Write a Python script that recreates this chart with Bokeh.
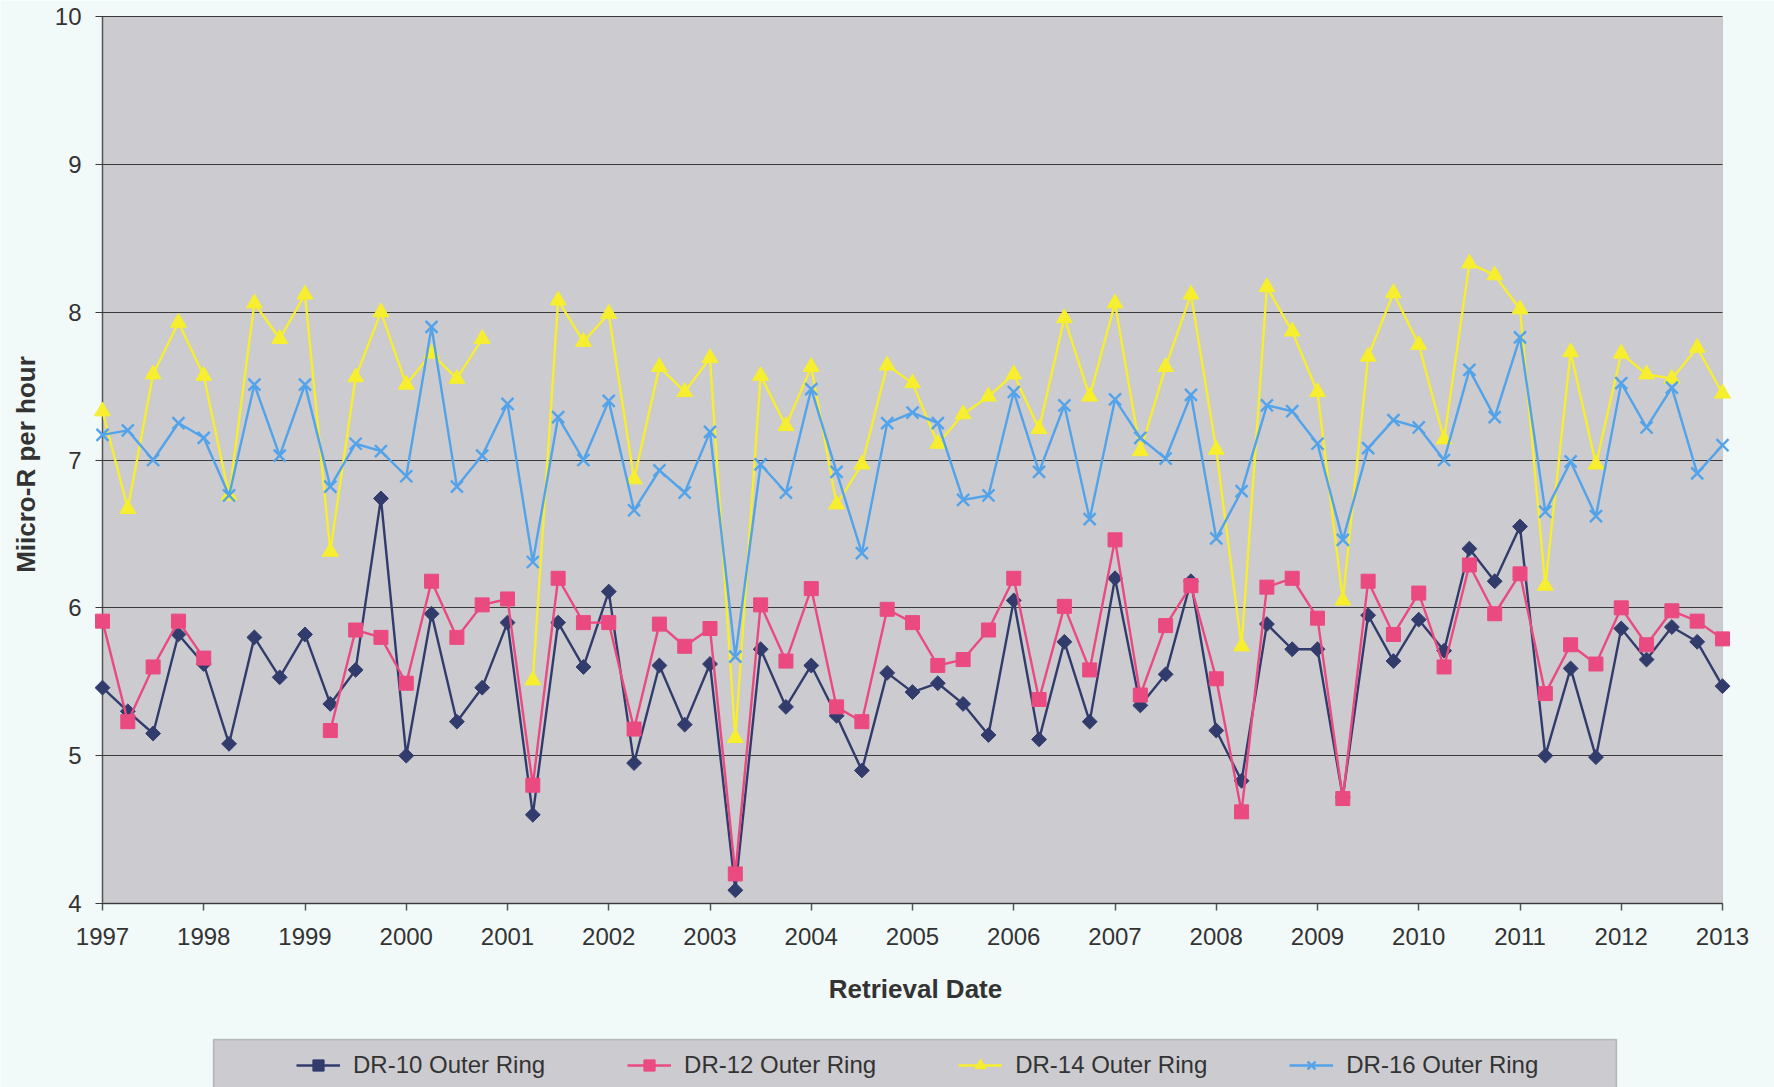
from bokeh.plotting import figure
from bokeh.models import Legend, LegendItem, FixedTicker, Range1d, BoxAnnotation, Label
from bokeh.embed import file_html
from bokeh.resources import INLINE
import math

nan = float("nan")

# Retrieval dates (quarterly, decimal years)
dates = [
    1997.00, 1997.25, 1997.50, 1997.75,
    1998.00, 1998.25, 1998.50, 1998.75,
    1999.00, 1999.25, 1999.50, 1999.75,
    2000.00, 2000.25, 2000.50, 2000.75,
    2001.00, 2001.25, 2001.50, 2001.75,
    2002.00, 2002.25, 2002.50, 2002.75,
    2003.00, 2003.25, 2003.50, 2003.75,
    2004.00, 2004.25, 2004.50, 2004.75,
    2005.00, 2005.25, 2005.50, 2005.75,
    2006.00, 2006.25, 2006.50, 2006.75,
    2007.00, 2007.25, 2007.50, 2007.75,
    2008.00, 2008.25, 2008.50, 2008.75,
    2009.00, 2009.25, 2009.50, 2009.75,
    2010.00, 2010.25, 2010.50, 2010.75,
    2011.00, 2011.25, 2011.50, 2011.75,
    2012.00, 2012.25, 2012.50, 2012.75,
    2013.00,
]

dr10 = [
    5.46, 5.30, 5.15, 5.82,
    5.62, 5.08, 5.80, 5.53,
    5.82, 5.35, 5.58, 6.74,
    5.00, 5.96, 5.23, 5.46,
    5.90, 4.60, 5.90, 5.60,
    6.11, 4.95, 5.61, 5.21,
    5.62, 4.09, 5.72, 5.33,
    5.61, 5.27, 4.90, 5.56,
    5.43, 5.49, 5.35, 5.14,
    6.05, 5.11, 5.77, 5.23,
    6.20, 5.34, 5.55, 6.18,
    5.17, 4.83, 5.89, 5.72,
    5.72, 4.72, 5.95, 5.64,
    5.92, 5.71, 6.40, 6.18,
    6.55, 5.00, 5.59, 4.99,
    5.86, 5.65, 5.87, 5.77,
    5.47,
]

dr12 = [
    5.91, 5.23, 5.60, 5.91,
    5.66, nan, nan, nan,
    nan, 5.17, 5.85, 5.80,
    5.49, 6.18, 5.80, 6.02,
    6.06, 4.80, 6.20, 5.90,
    5.90, 5.18, 5.89, 5.74,
    5.86, 4.20, 6.02, 5.64,
    6.13, 5.33, 5.23, 5.99,
    5.90, 5.61, 5.65, 5.85,
    6.20, 5.38, 6.01, 5.58,
    6.46, 5.41, 5.88, 6.15,
    5.52, 4.62, 6.14, 6.20,
    5.93, 4.71, 6.18, 5.82,
    6.10, 5.60, 6.29, 5.96,
    6.23, 5.42, 5.75, 5.62,
    6.00, 5.75, 5.98, 5.91,
    5.79,
]

dr14 = [
    7.33, 6.67, 7.58, 7.93,
    7.57, 6.76, 8.06, 7.82,
    8.12, 6.38, 7.56, 8.00,
    7.51, 7.72, 7.55, 7.82,
    nan, 5.51, 8.08, 7.80,
    7.99, 6.87, 7.63, 7.46,
    7.69, 5.12, 7.57, 7.23,
    7.63, 6.70, 6.97, 7.64,
    7.52, 7.11, 7.31, 7.43,
    7.58, 7.21, 7.96, 7.43,
    8.06, 7.06, 7.63, 8.12,
    7.07, 5.74, 8.17, 7.87,
    7.46, 6.05, 7.70, 8.13,
    7.78, 7.14, 8.33, 8.25,
    8.02, 6.15, 7.73, 6.97,
    7.72, 7.58, 7.55, 7.76,
    7.45,
]

dr16 = [
    7.17, 7.20, 7.00, 7.25,
    7.15, 6.76, 7.51, 7.03,
    7.51, 6.82, 7.11, 7.06,
    6.89, 7.90, 6.82, 7.03,
    7.38, 6.31, 7.29, 7.00,
    7.40, 6.66, 6.93, 6.78,
    7.19, 5.67, 6.97, 6.78,
    7.48, 6.92, 6.37, 7.25,
    7.32, 7.25, 6.73, 6.76,
    7.46, 6.92, 7.37, 6.60,
    7.41, 7.15, 7.01, 7.44,
    6.47, 6.79, 7.37, 7.33,
    7.11, 6.46, 7.08, 7.27,
    7.22, 7.00, 7.61, 7.29,
    7.83, 6.65, 6.99, 6.62,
    7.52, 7.22, 7.49, 6.91,
    7.10,
]

year_ticks = list(range(1997, 2014))
value_ticks = [4, 5, 6, 7, 8, 9, 10]

series_names = ["DR-10 Outer Ring", "DR-12 Outer Ring", "DR-14 Outer Ring", "DR-16 Outer Ring"]
x_title = "Retrieval Date"
y_title = "Miicro-R per hour"

# ---- layout (pixels) ----
W, H = 1774, 1087
PLOT_LEFT, PLOT_RIGHT, PLOT_TOP, PLOT_BOTTOM = 102, 1722, 16, 903
x0, x1 = year_ticks[0], year_ticks[-1]
y0, y1 = value_ticks[0], value_ticks[-1]
ppx = (PLOT_RIGHT - PLOT_LEFT) / (x1 - x0)
ppy = (PLOT_BOTTOM - PLOT_TOP) / (y1 - y0)


def px_x(px):
    return x0 + (px - PLOT_LEFT) / ppx


def px_y(py):
    return y0 - (py - PLOT_BOTTOM) / ppy


FONT = "Liberation Sans"
TXT = "#333333"
PLOT_BG = "#cbcbd0"
PAGE_BG = "#f2f9f9"
GRID = "#3a3a3a"

# the frame covers the whole canvas; axes are pinned to the plotting area
p = figure(width=W, height=H, output_backend="svg", toolbar_location=None,
           x_range=Range1d(px_x(0), px_x(W)), y_range=Range1d(px_y(H), px_y(0)),
           min_border_left=0, min_border_right=0, min_border_top=0,
           min_border_bottom=0)

p.background_fill_color = PAGE_BG
p.border_fill_color = PAGE_BG
p.outline_line_color = None

# grey plotting area
p.add_layout(BoxAnnotation(left=x0, right=x1, bottom=y0, top=y1,
                           fill_color=PLOT_BG, fill_alpha=1.0,
                           line_color="#8a8a8a", line_width=1, level="image"))

p.xgrid.grid_line_color = None
p.ygrid.grid_line_color = None
p.xaxis.ticker = FixedTicker(ticks=year_ticks)
p.yaxis.ticker = FixedTicker(ticks=value_ticks)
p.xaxis.minor_tick_line_color = None
p.yaxis.minor_tick_line_color = None
p.xaxis.fixed_location = y0
p.yaxis.fixed_location = x0
p.xaxis.bounds = (x0, x1)
p.yaxis.bounds = (y0, y1)

for ax in (p.xaxis[0], p.yaxis[0]):
    ax.axis_line_color = "#555555"
    ax.axis_line_width = 1.5
    ax.major_tick_line_color = "#555555"
    ax.major_tick_line_width = 1.5
    ax.major_tick_in = 0
    ax.major_tick_out = 7
    ax.major_label_text_font = FONT
    ax.major_label_text_font_size = "24px"
    ax.major_label_text_color = TXT
    ax.level = "underlay"

# horizontal gridlines: value-axis ticks reaching across the plotting area
p.yaxis.major_tick_in = PLOT_RIGHT - PLOT_LEFT
p.yaxis.major_tick_line_color = GRID
p.yaxis.major_tick_line_width = 1

p.xaxis.major_label_standoff = 17
p.yaxis.major_label_standoff = 14

# axis titles
p.add_layout(Label(x=px_x(915), y=px_y(988), text=x_title,
                   text_align="center", text_baseline="middle",
                   text_font=FONT, text_font_size="26px", text_font_style="bold",
                   text_color=TXT))
p.add_layout(Label(x=px_x(25), y=px_y(464), text=y_title, angle=math.pi / 2,
                   text_align="center", text_baseline="middle",
                   text_font=FONT, text_font_size="26px", text_font_style="bold",
                   text_color=TXT))

colors = ["#323c6c", "#ea4a80", "#f6ee2e", "#52a3ea"]
LW = 2.4

# DR-10 : diamonds
l0 = p.line(dates, dr10, line_color=colors[0], line_width=LW)
m0 = p.scatter(dates, dr10, marker="square", angle=math.pi / 4, size=10.5,
               fill_color=colors[0], line_color=colors[0])
# DR-12 : squares
l1 = p.line(dates, dr12, line_color=colors[1], line_width=LW)
m1 = p.scatter(dates, dr12, marker="square", size=14,
               fill_color=colors[1], line_color=colors[1])
# DR-14 : triangles
l2 = p.line(dates, dr14, line_color=colors[2], line_width=LW)
m2 = p.scatter(dates, dr14, marker="triangle", size=16,
               fill_color=colors[2], line_color=colors[2])
# DR-16 : crosses
l3 = p.line(dates, dr16, line_color=colors[3], line_width=LW)
m3 = p.scatter(dates, dr16, marker="x", size=17,
               line_color=colors[3], line_width=LW)

# legend frame
p.add_layout(BoxAnnotation(left=px_x(213), right=px_x(1616),
                           bottom=px_y(H + 20), top=px_y(1039),
                           fill_color=PLOT_BG, fill_alpha=1.0,
                           line_color="#555555", line_width=1.5))

rends = [[l0, m0], [l1, m1], [l2, m2], [l3, m3]]
items = [LegendItem(label=name, renderers=r) for name, r in zip(series_names, rends)]

legend = Legend(items=items, orientation="horizontal",
                location=(296, 8))
legend.background_fill_alpha = 0.0
legend.border_line_color = None
legend.label_text_font = FONT
legend.label_text_font_size = "24px"
legend.label_text_color = TXT
legend.glyph_width = 44
legend.glyph_height = 28
legend.label_standoff = 13
legend.spacing = 82
legend.padding = 0
legend.margin = 0
p.add_layout(legend, "center")

html = file_html(p, INLINE)
with open("out.html", "w") as f:
    f.write(html)
